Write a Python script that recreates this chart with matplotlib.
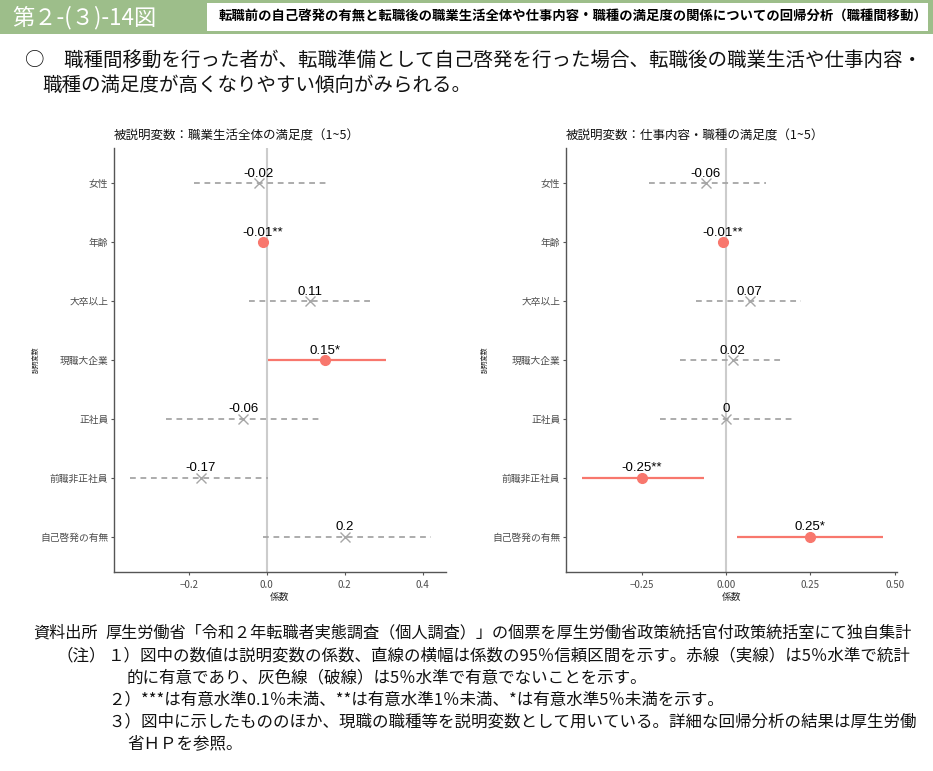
import matplotlib
matplotlib.use('Agg')
import matplotlib.pyplot as plt
from matplotlib.patches import Rectangle

plt.rcParams['font.family'] = ['Noto Sans CJK JP', 'DejaVu Sans']

W, H = 933, 771

variables = ['女性', '年齢', '大卒以上', '現職大企業', '正社員', '前職非正社員', '自己啓発の有無']

life_coef = [-0.02, -0.01, 0.11, 0.15, -0.06, -0.17, 0.20]
life_low = [-0.186, -0.012, -0.045, 0.002, -0.259, -0.352, -0.009]
life_high = [0.154, -0.008, 0.269, 0.306, 0.138, 0.002, 0.421]
life_stars = ['', '**', '', '*', '', '', '']
life_sig = [False, True, False, True, False, False, False]

job_coef = [-0.06, -0.01, 0.07, 0.02, 0.00, -0.25, 0.25]
job_low = [-0.228, -0.012, -0.089, -0.136, -0.195, -0.429, 0.033]
job_high = [0.117, -0.008, 0.221, 0.169, 0.206, -0.066, 0.465]
job_stars = ['', '**', '', '', '', '**', '*']
job_sig = [False, True, False, False, False, True, True]

life_ticks = [-0.2, 0.0, 0.2, 0.4]
life_ticklabels = ['−0.2', '0.0', '0.2', '0.4']
job_ticks = [-0.25, 0.0, 0.25, 0.50]
job_ticklabels = ['−0.25', '0.00', '0.25', '0.50']

life_title = '被説明変数：職業生活全体の満足度（1~5）'
job_title = '被説明変数：仕事内容・職種の満足度（1~5）'

RED = '#f8776d'
GREY = '#a6a6a6'

fig = plt.figure(figsize=(W / 100, H / 100), dpi=100)


def px(x, y):
    return x / W, 1 - y / H


# header
fig.patches.append(Rectangle(px(0, 34), 1, 34 / H, transform=fig.transFigure,
                             facecolor='#9dbe8a', edgecolor='none', zorder=0))
fig.patches.append(Rectangle(px(207, 31), (928 - 207) / W, 28 / H, transform=fig.transFigure,
                             facecolor='white', edgecolor='none', zorder=1))
fig.text(*px(12, 18), '第２-(３)-14図', color='white', fontsize=16, va='center', ha='left')
fig.text(*px(219, 17), '転職前の自己啓発の有無と転職後の職業生活全体や仕事内容・職種の満足度の関係についての回帰分析（職種間移動）',
         color='black', fontsize=9.6, fontweight='bold', va='center', ha='left')

fig.text(*px(25, 60), '○　職種間移動を行った者が、転職準備として自己啓発を行った場合、転職後の職業生活や仕事内容・',
         fontsize=14.0, va='center', ha='left', color='#111111')
fig.text(*px(42, 85), '職種の満足度が高くなりやすい傾向がみられる。',
         fontsize=14.0, va='center', ha='left', color='#111111')


def panel(rect, coef, low, high, stars, sig, ticks, ticklabels, xlim, title, ylab_x):
    ax = fig.add_axes(rect)
    ys = list(range(len(variables), 0, -1))
    ax.axvline(0, color='#cccccc', lw=1.5, zorder=1)
    for y, c, lo, hi, st, s in zip(ys, coef, low, high, stars, sig):
        if s:
            ax.plot([lo, hi], [y, y], color=RED, lw=1.6, solid_capstyle='butt', zorder=2)
            ax.plot([c], [y], 'o', color=RED, ms=7, zorder=3)
        else:
            ax.plot([lo, hi], [y, y], color=GREY, lw=1.3, linestyle=(0, (3.2, 2.6)), zorder=2)
            ax.plot([c], [y], 'x', color=GREY, ms=6.5, mew=1.0, zorder=3)
        ax.annotate(f'{c:g}{st}', (c, y), xytext=(0, 2.5), textcoords='offset points',
                    ha='center', va='bottom', fontsize=9.5, family=['Liberation Sans', 'DejaVu Sans'],
                    color='black', zorder=4)
    ax.set_ylim(0.4, len(variables) + 0.6)
    ax.set_xlim(*xlim)
    ax.set_yticks(ys)
    ax.set_yticklabels(variables)
    ax.set_xticks(ticks)
    ax.set_xticklabels(ticklabels)
    for s in ['top', 'right']:
        ax.spines[s].set_visible(False)
    for s in ['left', 'bottom']:
        ax.spines[s].set_color('#555555')
        ax.spines[s].set_linewidth(1.0)
    ax.tick_params(axis='both', colors='#555555', labelcolor='#4d4d4d', labelsize=7.0, length=2.5, width=0.8)
    ax.tick_params(axis='y', pad=1.5)
    ax.set_xlabel('係数', fontsize=7, color='#222222', labelpad=1)
    ax.set_ylabel('説明変数', fontsize=4.8, color='#222222')
    ax.yaxis.set_label_coords(ylab_x, 0.5)
    ax.set_title(title, fontsize=9, loc='left', pad=6, color='#111111')
    return ax


panel([114 / W, 1 - 572 / H, 332 / W, 424 / H], life_coef, life_low, life_high, life_stars, life_sig,
      life_ticks, life_ticklabels, (-0.392, 0.46), life_title, -0.225)
panel([566 / W, 1 - 572 / H, 331 / W, 424 / H], job_coef, job_low, job_high, job_stars, job_sig,
      job_ticks, job_ticklabels, (-0.475, 0.507), job_title, -0.235)

# footer
fs = 11.9
fig.text(*px(33, 633), '資料出所', fontsize=11.65, va='center', ha='left', color='#111111')
fig.text(*px(105, 633), '厚生労働省「令和２年転職者実態調査（個人調査）」の個票を厚生労働省政策統括官付政策統括室にて独自集計',
         fontsize=11.65, va='center', ha='left', color='#111111')
fig.text(*px(57, 656), '（注）', fontsize=fs, va='center', ha='left', color='#111111')
fig.text(*px(108, 656), '１）図中の数値は説明変数の係数、直線の横幅は係数の95％信頼区間を示す。赤線（実線）は5％水準で統計',
         fontsize=fs, va='center', ha='left', color='#111111')
fig.text(*px(127, 678), '的に有意であり、灰色線（破線）は5％水準で有意でないことを示す。',
         fontsize=fs, va='center', ha='left', color='#111111')
fig.text(*px(108, 700), '２）***は有意水準0.1％未満、**は有意水準1％未満、*は有意水準5％未満を示す。',
         fontsize=fs, va='center', ha='left', color='#111111')
fig.text(*px(108, 722), '３）図中に示したもののほか、現職の職種等を説明変数として用いている。詳細な回帰分析の結果は厚生労働',
         fontsize=fs, va='center', ha='left', color='#111111')
fig.text(*px(127, 744), '省ＨＰを参照。', fontsize=fs, va='center', ha='left', color='#111111')

fig.savefig('out.png', dpi=100)
